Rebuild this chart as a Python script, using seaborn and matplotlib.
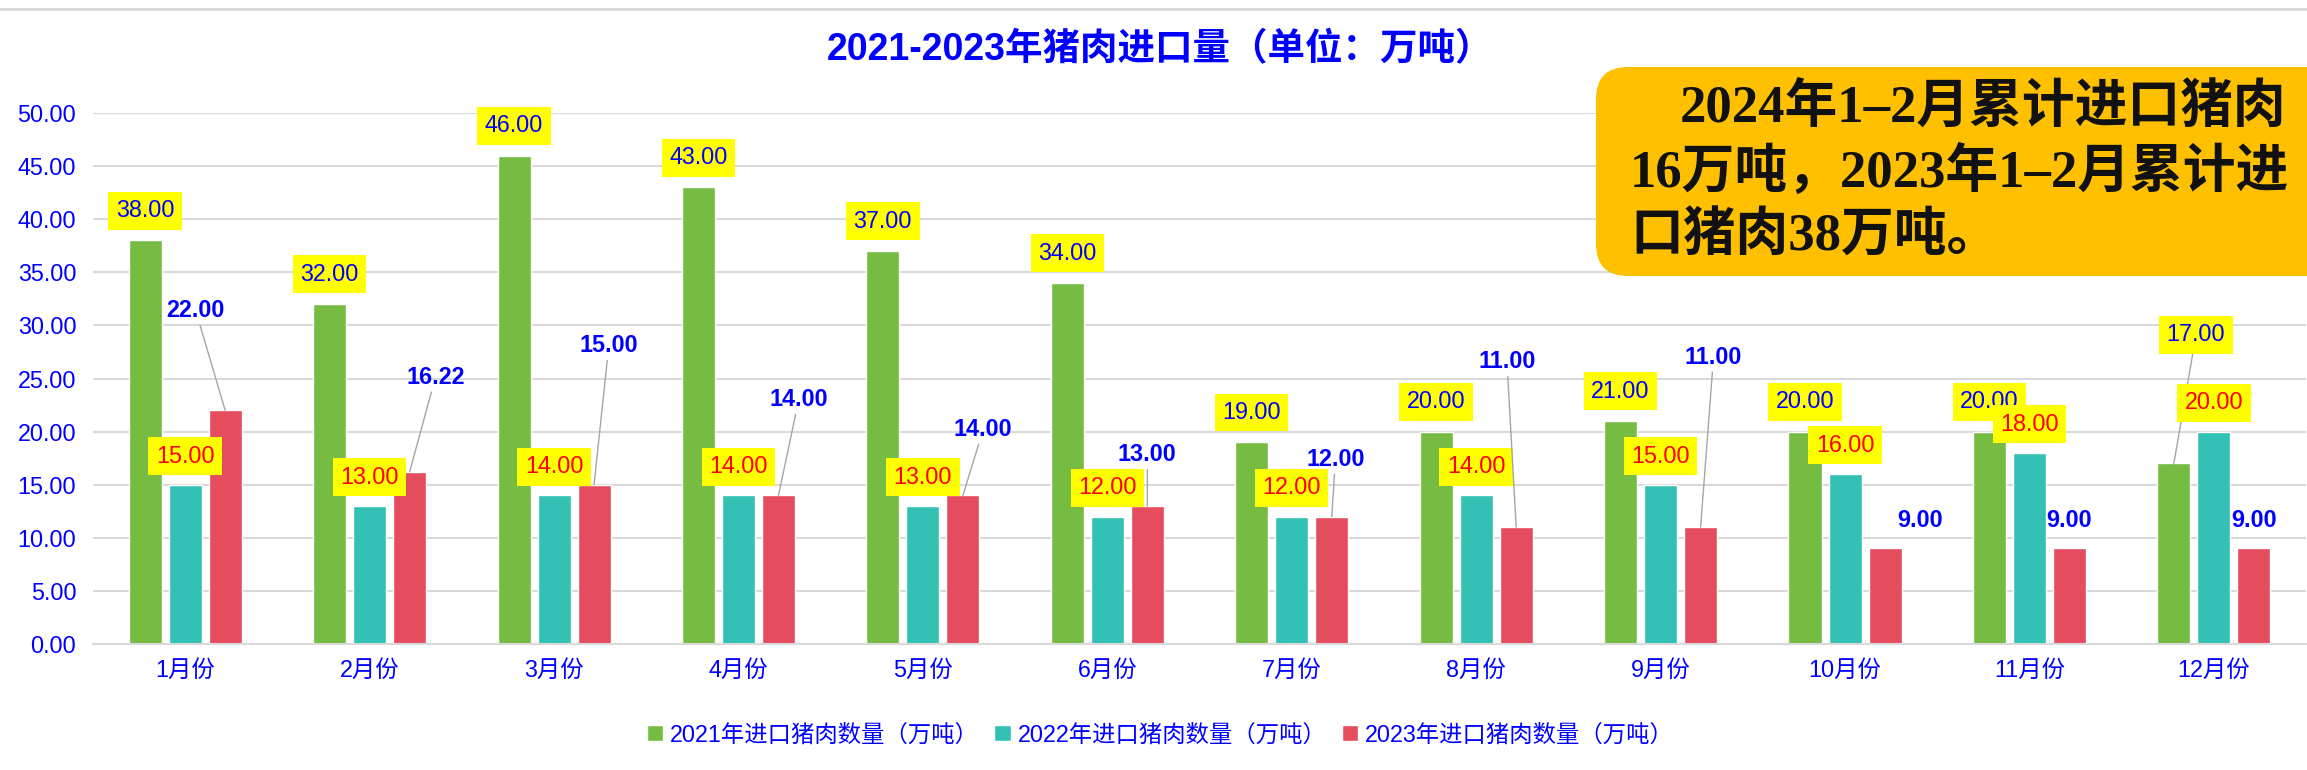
# 2021-2023年猪肉进口量 柱状图

import pandas as pd
import seaborn as sns
import matplotlib.pyplot as plt
from matplotlib.patches import FancyBboxPatch
from matplotlib.lines import Line2D

months = ['1月份', '2月份', '3月份', '4月份', '5月份', '6月份',
          '7月份', '8月份', '9月份', '10月份', '11月份', '12月份']
series = ['2021年进口猪肉数量（万吨）', '2022年进口猪肉数量（万吨）', '2023年进口猪肉数量（万吨）']
v2021 = [38, 32, 46, 43, 37, 34, 19, 20, 21, 20, 20, 17]
v2022 = [15, 13, 14, 14, 13, 12, 12, 14, 15, 16, 18, 20]
v2023 = [22, 16.22, 15, 14, 14, 13, 12, 11, 11, 9, 9, 9]
note_lines = ['2024年1–2月累计进口猪肉', '16万吨，2023年1–2月累计进', '口猪肉38万吨。']

# label placement (category units, value units)
off2021 = [(0, 2.8)] * 11 + [(0.12, 12.1)]
off2022 = [(0, 2.7)] * 12
off2023 = [(-0.16, 9.4), (0.14, 8.9), (0.08, 13.1), (0.11, 9.0), (0.11, 6.2), (0, 4.8),
           (0.02, 5.4), (-0.05, 15.6), (0.07, 16.0), (0.19, 2.6), (0, 2.6), (0, 2.6)]
line2023 = [True] * 9 + [False] * 3

df = pd.DataFrame({
    'month': months * 3,
    'series': [series[0]] * 12 + [series[1]] * 12 + [series[2]] * 12,
    'value': v2021 + v2022 + v2023,
})

colors = ['#76BC43', '#32C1B4', '#E54C5E']
blue = '#0000FF'
grid_c = '#D9D9D9'
line_c = '#A5A5A5'
fs = 16.8

sns.set_style('white')
plt.rcParams['font.family'] = ['Liberation Sans', 'Noto Sans CJK SC']

fig = plt.figure(figsize=(23.07, 7.70), dpi=100)
ax = fig.add_axes([0.0403, 0.1636, 0.9593, 0.6896])

sns.barplot(data=df, x='month', y='value', hue='series', palette=colors,
            saturation=1, width=0.651, gap=0.175, ax=ax)

ax.set_ylim(0, 50)
ax.set_yticks(range(0, 51, 5))
ax.set_yticklabels([f'{v:.2f}' for v in range(0, 51, 5)])
ax.set_xlabel('')
ax.set_ylabel('')
ax.tick_params(axis='both', length=0, labelsize=fs, labelcolor=blue)
ax.tick_params(axis='y', pad=12)
ax.tick_params(axis='x', pad=11)
ax.grid(axis='y', color=grid_c, lw=1.5)
ax.set_axisbelow(True)
for s in ['left', 'right', 'top']:
    ax.spines[s].set_visible(False)
ax.spines['bottom'].set_color(grid_c)
ax.spines['bottom'].set_linewidth(1.5)

# data labels
def bar_pos(container):
    return [(b.get_x() + b.get_width() / 2, b.get_height()) for b in container]

box = dict(boxstyle='square,pad=0.32', fc='#FFFF00', ec='none')
for (x, h), (dx, dy) in zip(bar_pos(ax.containers[0]), off2021):
    ap = dict(arrowstyle='-', color=line_c, lw=1, shrinkA=0, shrinkB=0) if dy > 5 else None
    ax.annotate(f'{h:.2f}', xy=(x, h), xytext=(x + dx, h + dy), ha='center', va='center',
                fontsize=fs, color=blue, bbox=box, arrowprops=ap, annotation_clip=False)
for (x, h), (dx, dy) in zip(bar_pos(ax.containers[1]), off2022):
    ax.annotate(f'{h:.2f}', xy=(x, h), xytext=(x + dx, h + dy), ha='center', va='center',
                fontsize=fs, color='#FF0000', bbox=box, annotation_clip=False)
for (x, h), (dx, dy), ln in zip(bar_pos(ax.containers[2]), off2023, line2023):
    ap = dict(arrowstyle='-', color=line_c, lw=1, shrinkA=0, shrinkB=0) if ln else None
    ax.annotate(f'{h:.2f}', xy=(x, h), xytext=(x + dx, h + dy), ha='center', va='center',
                fontsize=fs, color=blue, fontweight='bold', arrowprops=ap, annotation_clip=False)

# legend at the bottom
leg = ax.get_legend()
handles = leg.legend_handles
labels = [t.get_text() for t in leg.get_texts()]
leg.remove()
fig.legend(handles, labels, loc='center', bbox_to_anchor=(0.503, 0.0455), ncol=3,
           frameon=False, fontsize=fs, labelcolor=blue, handlelength=0.7, handleheight=0.7,
           handletextpad=0.3, columnspacing=0.65)

fig.suptitle('2021-2023年猪肉进口量（单位：万吨）', x=0.503, y=0.935, va='center',
             fontsize=27, fontweight='bold', color=blue)

# top border line
fig.add_artist(Line2D([0, 1], [0.988, 0.988], transform=fig.transFigure, color=grid_c, lw=2))

# orange note box
fig.add_artist(FancyBboxPatch((15.96, 4.94), 8.0, 2.09, boxstyle='round,pad=0,rounding_size=0.32',
                              transform=fig.dpi_scale_trans, fc='#FFC000', ec='none', zorder=5))
note_font = ['Liberation Serif', 'Noto Sans CJK SC']
for txt, x, y in zip(note_lines, [0.7282, 0.7065, 0.7065], [0.8416, 0.7571, 0.674]):
    fig.text(x, y, txt, ha='left', va='baseline', fontsize=38, fontweight='bold',
             color='#111111', family=note_font, zorder=6)

plt.savefig('out.png', dpi=100)
